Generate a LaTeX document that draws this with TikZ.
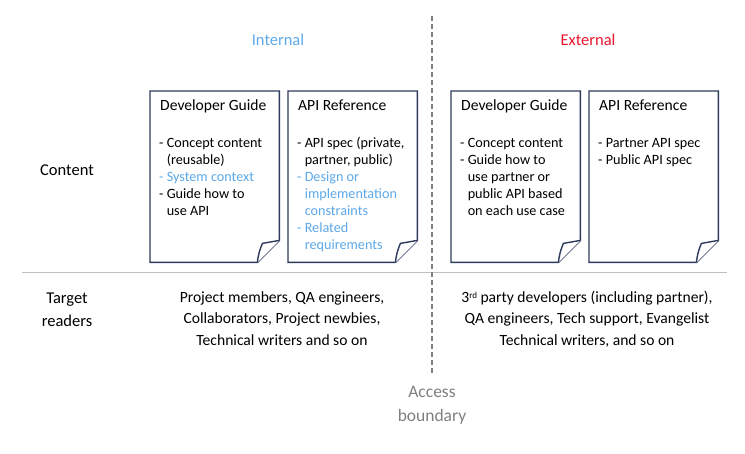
\documentclass[tikz,border=0pt]{standalone}
\usepackage{fontspec}
\setmainfont{Carlito}
\definecolor{navy}{HTML}{2E3A5C}
\definecolor{intblue}{HTML}{5DA9E9}
\definecolor{extred}{HTML}{E8142C}
\definecolor{sepgray}{HTML}{BFBFBF}
\definecolor{dashgray}{HTML}{7F7F7F}
\begin{document}
\begin{tikzpicture}[x=1pt,y=-1pt,
  docbox/.style={inner sep=0pt, minimum width=129pt, minimum height=171pt, anchor=north west},
  docline/.style={draw=navy, line width=1.4pt, line join=miter, fill=white},
  title/.style={font=\fontsize{15.6}{18}\selectfont, anchor=base west, inner sep=0pt},
  body/.style={font=\fontsize{14.2}{17}\selectfont, anchor=north west, inner sep=0pt, align=left},
  lbl/.style={font=\fontsize{16.5}{20}\selectfont, inner sep=0pt, align=center},
  readers/.style={font=\fontsize{15.6}{21.5}\selectfont, inner sep=0pt, align=center, anchor=north}
]
\useasboundingbox (0,0) rectangle (745,453);

% doc boxes
\node[docbox] (d1) at (150,91) {};
\node[docbox] (d2) at (288,91) {};
\node[docbox] (d3) at (451,91) {};
\node[docbox] (d4) at (589,91) {};
\foreach \d in {d1,d2,d3,d4}{
  \draw[docline] (\d.north west) -- (\d.north east) -- ([yshift=22pt]\d.south east)
     -- ([xshift=-22pt]\d.south east) -- (\d.south west) -- cycle;
  \draw[docline] ([yshift=22pt]\d.south east) -- ([xshift=-17pt,yshift=19pt]\d.south east)
     to[bend right=8] ([xshift=-22pt]\d.south east);
}

% titles
\node[title] (t1) at (160,110) {Developer Guide};
\node[title] (t2) at (298,110) {API Reference};
\node[title] (t3) at (461,110) {Developer Guide};
\node[title] (t4) at (599,110) {API Reference};

% bodies
\node[body] (b1) at (159,135) {\strut- Concept content\\\phantom{- }(reusable)\\\textcolor{intblue}{- System context}\\- Guide how to\\\phantom{- }use API};
\node[body] (b2) at (297,135) {\strut- API spec (private,\\\phantom{- }partner, public)\\\textcolor{intblue}{- Design or}\\\textcolor{intblue}{\phantom{- }implementation}\\\textcolor{intblue}{\phantom{- }constraints}\\\textcolor{intblue}{- Related}\\\textcolor{intblue}{\phantom{- }requirements}};
\node[body] (b3) at (460,135) {\strut- Concept content\\- Guide how to\\\phantom{- }use partner or\\\phantom{- }public API based\\\phantom{- }on each use case};
\node[body] (b4) at (598,135) {\strut- Partner API spec\\- Public API spec};

% headers
\node[lbl, text=intblue] (int) at (278,40) {Internal};
\node[lbl, text=extred] (ext) at (588,40) {External};
\node[lbl] (content) at (67,170) {Content};
\node[lbl, font=\fontsize{16.5}{23}\selectfont] (target) at (67,310) {Target\\readers};

% separator lines
\coordinate (hl) at (22,272);
\coordinate (hr) at (727,272);
\draw[sepgray, line width=1pt] (hl) -- (hr);
\coordinate (vt) at (432,16);
\coordinate (vb) at (432,375);
\draw[dashgray, line width=1.2pt, dash pattern=on 5pt off 3pt] (vt) -- (vb);

% readers
\node[readers] (r1) at (282,287) {\strut Project members, QA engineers,\\Collaborators, Project newbies,\\Technical writers and so on};
\node[readers] (r2) at (587,287) {\strut 3{\fontsize{9}{9}\selectfont\raisebox{0.45em}{rd}} party developers (including partner),\\QA engineers, Tech support, Evangelist\\Technical writers, and so on};

% access boundary
\node[lbl, text=dashgray, font=\fontsize{17.5}{24}\selectfont] (acc) at (432,405) {Access\\boundary};
\end{tikzpicture}
\end{document}
